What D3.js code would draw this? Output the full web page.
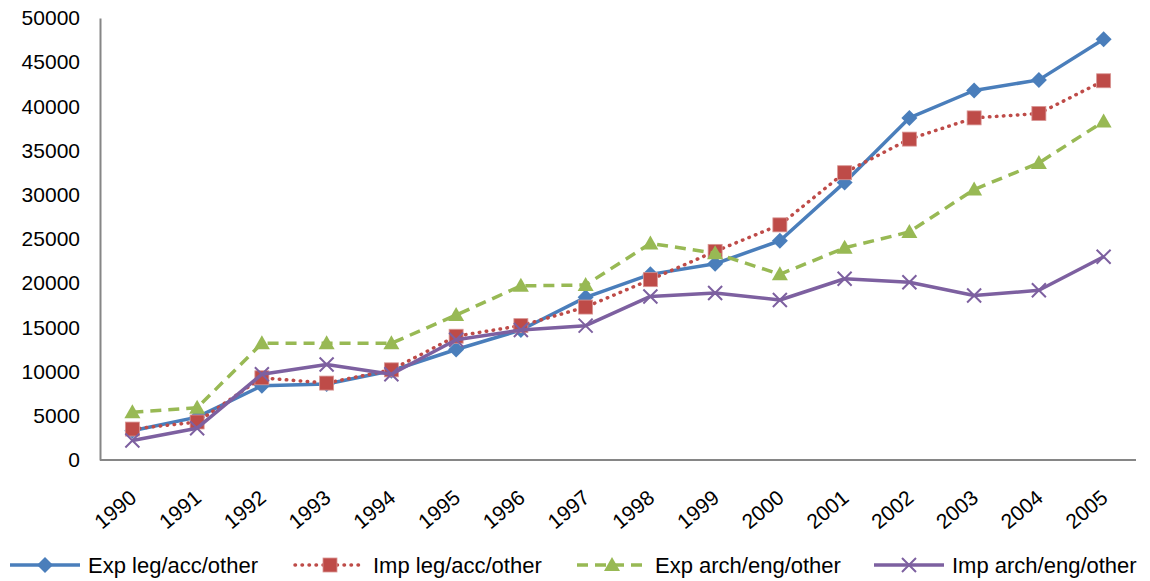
<!DOCTYPE html>
<html><head><meta charset="utf-8">
<script src="https://cdn.jsdelivr.net/npm/d3@7"></script>
<style>
body{margin:0;background:#fff;}
svg{display:block;font-family:"Liberation Sans",Arial,sans-serif;}
</style></head>
<body><svg id="chart" width="1150" height="581"></svg>
<script>
const years = ["1990","1991","1992","1993","1994","1995","1996","1997","1998","1999","2000","2001","2002","2003","2004","2005"];
const expLeg = [3300,4850,8400,8600,10100,12500,14700,18400,21000,22200,24800,31400,38700,41800,43000,47600];
const impLeg = [3500,4300,9300,8700,10200,14000,15200,17300,20400,23600,26600,32500,36300,38700,39200,42900];
const expArch = [5400,5900,13200,13200,13200,16400,19700,19800,24500,23400,21000,24000,25800,30600,33600,38300];
const impArch = [2200,3600,9700,10800,9700,13600,14700,15200,18500,18900,18100,20500,20100,18600,19200,23000];
const yTicks = [0,5000,10000,15000,20000,25000,30000,35000,40000,45000,50000];
const seriesNames = ["Exp leg/acc/other","Imp leg/acc/other","Exp arch/eng/other","Imp arch/eng/other"];

const series = [
  {name:seriesNames[0], values:expLeg, color:"#4A7EBB", dash:null, cap:"butt", marker:"diamond"},
  {name:seriesNames[1], values:impLeg, color:"#BE4B48", dash:"0.5,6.5", cap:"round", marker:"square"},
  {name:seriesNames[2], values:expArch, color:"#98B954", dash:"11,7", cap:"butt", marker:"triangle"},
  {name:seriesNames[3], values:impArch, color:"#7D60A0", dash:null, cap:"butt", marker:"x"}
];

const svg = d3.select("#chart");
const L = 100, R = 1136, T = 18, B = 460;
const x = d3.scalePoint().domain(years).range([L, R]).padding(0.5);
const y = d3.scaleLinear().domain([0, 50000]).range([B, T]);

// axes
const yAxis = svg.append("g").attr("transform", `translate(${L},0)`)
  .call(d3.axisLeft(y).tickValues(yTicks).tickSize(0).tickPadding(20).tickFormat(d3.format("d")));
yAxis.select(".domain").attr("stroke", "#868686").attr("stroke-width", 2);
yAxis.selectAll("text").attr("font-size", 21).attr("fill", "#000").attr("font-family", "Liberation Sans, Arial, sans-serif");

const xAxis = svg.append("g").attr("transform", `translate(0,${B})`)
  .call(d3.axisBottom(x).tickSize(0).tickPadding(0));
xAxis.select(".domain").attr("stroke", "#868686").attr("stroke-width", 2)
  .attr("d", `M${L},0H${R}`);
xAxis.selectAll("text")
  .attr("font-size", 21).attr("fill", "#000").attr("font-family", "Liberation Sans, Arial, sans-serif")
  .attr("text-anchor", "end")
  .attr("dy", null)
  .attr("transform", "translate(5,40) rotate(-40)");

const line = d3.line().x((d,i) => x(years[i])).y(d => y(d));

function drawMarker(g, type, cx, cy, color) {
  if (type === "diamond") {
    g.append("path").attr("d", `M${cx},${cy-8}L${cx+8},${cy}L${cx},${cy+8}L${cx-8},${cy}Z`).attr("fill", color);
  } else if (type === "square") {
    g.append("rect").attr("x", cx-7).attr("y", cy-7).attr("width", 14).attr("height", 14)
      .attr("fill", color).attr("stroke", "#D99694").attr("stroke-width", 0.8);
  } else if (type === "triangle") {
    g.append("path").attr("d", `M${cx},${cy-8}L${cx+8},${cy+6}L${cx-8},${cy+6}Z`).attr("fill", color);
  } else if (type === "x") {
    g.append("path").attr("d", `M${cx-7},${cy-7}L${cx+7},${cy+7}M${cx+7},${cy-7}L${cx-7},${cy+7}`)
      .attr("stroke", color).attr("stroke-width", 2).attr("fill", "none");
  }
}

series.forEach(s => {
  const g = svg.append("g");
  g.append("path").datum(s.values).attr("d", line)
    .attr("fill", "none").attr("stroke", s.color).attr("stroke-width", 3.5)
    .attr("stroke-linecap", s.cap).attr("stroke-linejoin", "round")
    .attr("stroke-dasharray", s.dash);
  s.values.forEach((v,i) => drawMarker(g, s.marker, x(years[i]), y(v), s.color));
});

// legend
const legendX = [10, 295, 577, 874];
const ly = 565;
series.forEach((s, i) => {
  const g = svg.append("g");
  const x0 = legendX[i];
  g.append("line").attr("x1", x0).attr("x2", x0 + 70).attr("y1", ly).attr("y2", ly)
    .attr("stroke", s.color).attr("stroke-width", 3.5).attr("stroke-linecap", s.cap)
    .attr("stroke-dasharray", s.dash);
  drawMarker(g, s.marker, x0 + 35, ly, s.color);
  g.append("text").attr("x", x0 + 78).attr("y", ly).attr("dy", "0.35em")
    .attr("font-size", 22).attr("fill", "#000").text(s.name);
});
</script></body></html>
